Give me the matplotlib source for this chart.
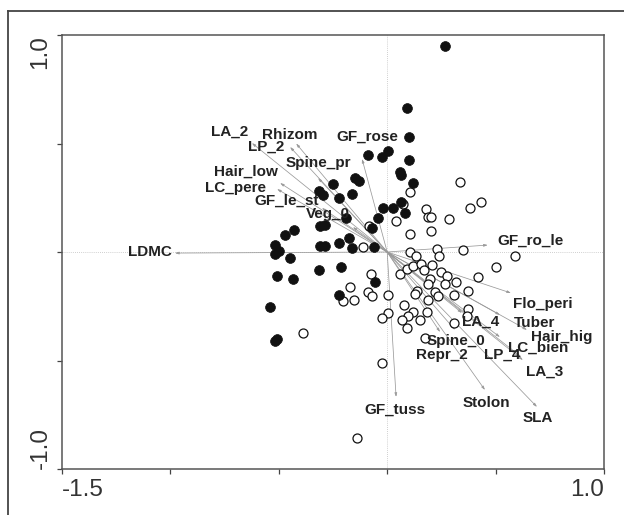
import matplotlib
matplotlib.use("Agg")
import matplotlib.pyplot as plt
from matplotlib.lines import Line2D

plt.rcParams['font.family'] = ['Liberation Sans', 'DejaVu Sans']

# --- sample scores (group 1: filled, group 2: open) ---
filled_x = [0.267, 0.091, 0.101, -0.089, -0.024, 0.004, 0.101, 0.059, 0.064, 0.119,
            -0.149, -0.130, -0.250, -0.315, -0.296, -0.222, -0.162, 0.064, -0.019, 0.027,
            0.082, -0.042, -0.190, -0.070, -0.310, -0.287, -0.176, -0.222, -0.310, -0.287,
            -0.162, -0.061, -0.430, -0.471, -0.518, -0.499, -0.518, -0.448, -0.508, -0.435,
            -0.315, -0.213, -0.056, -0.222, -0.541, -0.518, -0.508]
filled_y = [0.949, 0.664, 0.530, 0.447, 0.438, 0.465, 0.424, 0.369, 0.355, 0.318,
            0.341, 0.327, 0.313, 0.281, 0.263, 0.249, 0.267, 0.230, 0.203, 0.203,
            0.180, 0.157, 0.157, 0.111, 0.120, 0.124, 0.065, 0.041, 0.028, 0.028,
            0.018, 0.023, 0.101, 0.078, 0.032, 0.005, -0.009, -0.028, -0.111, -0.124,
            -0.083, -0.069, -0.138, -0.198, -0.253, -0.410, -0.401]

open_x = [0.336, 0.105, 0.073, 0.179, 0.188, 0.202, 0.285, 0.382, 0.433, 0.041,
          -0.084, 0.105, 0.202, -0.112, 0.105, 0.133, 0.230, 0.239, 0.350, 0.590,
          -0.388, -0.204, -0.153, -0.172, -0.089, -0.070, -0.075, 0.004, 0.004, -0.024,
          0.059, 0.091, 0.119, 0.156, 0.170, 0.207, 0.248, 0.276, 0.317, 0.267,
          0.197, 0.188, 0.137, 0.128, 0.220, 0.234, 0.308, 0.373, 0.419, 0.502,
          0.188, 0.078, 0.119, 0.096, 0.068, 0.151, 0.184, 0.091, 0.308, 0.373,
          0.368, 0.174, -0.024, -0.139]
open_y = [0.323, 0.276, 0.221, 0.198, 0.161, 0.161, 0.152, 0.203, 0.230, 0.143,
          0.120, 0.083, 0.097, 0.023, 0.000, -0.018, 0.014, -0.018, 0.009, -0.018,
          -0.373, -0.226, -0.221, -0.161, -0.184, -0.203, -0.101, -0.198, -0.281, -0.304,
          -0.101, -0.078, -0.065, -0.055, -0.083, -0.060, -0.092, -0.111, -0.138, -0.147,
          -0.124, -0.147, -0.180, -0.194, -0.184, -0.203, -0.198, -0.180, -0.115, -0.069,
          -0.221, -0.244, -0.276, -0.295, -0.313, -0.313, -0.276, -0.350, -0.327, -0.263,
          -0.295, -0.396, -0.511, -0.857]

# --- trait vectors ---
traits = ['LDMC', 'GF_ro_le', 'GF_rose', 'Spine_pr', 'Rhizom', 'LA_2', 'LP_2',
          'Hair_low', 'LC_pere', 'GF_le_st', 'Veg_0', 'Flo_peri', 'Tuber',
          'Hair_hig', 'LC_bien', 'LP_4', 'LA_3', 'LA_4', 'Spine_0', 'Repr_2',
          'Stolon', 'SLA', 'GF_tuss']
arrow_x = [-0.979, 0.464, -0.116, -0.319, -0.420, -0.624, -0.448, -0.494, -0.508,
           -0.301, -0.158, 0.571, 0.520, 0.645, 0.520, 0.613, 0.626, 0.345, 0.313,
           0.244, 0.451, 0.691, 0.041]
arrow_y = [-0.005, 0.032, 0.429, 0.341, 0.500, 0.502, 0.484, 0.318, 0.290, 0.203,
           0.115, -0.189, -0.290, -0.359, -0.392, -0.479, -0.498, -0.281, -0.359,
           -0.369, -0.636, -0.714, -0.668]
label_x = [-1.093, 0.659, -0.093, -0.319, -0.448, -0.725, -0.559, -0.650, -0.702,
           -0.466, -0.273, 0.719, 0.682, 0.806, 0.696, 0.530, 0.728, 0.433, 0.317,
           0.253, 0.457, 0.696, 0.036]
label_y = [0.000, 0.051, 0.530, 0.410, 0.539, 0.553, 0.484, 0.369, 0.295, 0.235,
           0.175, -0.240, -0.327, -0.392, -0.442, -0.475, -0.553, -0.323, -0.410,
           -0.475, -0.696, -0.765, -0.728]

x_ticks = [-1.5, -1.0, -0.5, 0.0, 0.5, 1.0]
x_ticklabels = ['-1.5', '', '', '', '', '1.0']
y_ticks = [-1.0, -0.5, 0.0, 0.5, 1.0]
y_ticklabels = ['-1.0', '', '', '', '1.0']

fig = plt.figure(figsize=(6.24, 5.15), dpi=100)
ax = fig.add_axes([62/624, 1-469/515, (604-62)/624, (469-35)/515])

# outer frame (cut off at right/bottom)
frame_col = '#444444'
fig.add_artist(Line2D([8/624, 8/624], [0, 1-11/515], transform=fig.transFigure,
                      color=frame_col, lw=1.3))
fig.add_artist(Line2D([8/624, 1], [1-11/515, 1-11/515], transform=fig.transFigure,
                      color=frame_col, lw=1.3))

ax.set_xlim(-1.5, 1.0)
ax.set_ylim(-1.0, 1.0)

ax.axhline(0, color='#c0c0c0', lw=0.6, ls=(0, (1, 1.5)), zorder=1)
ax.axvline(0, color='#c0c0c0', lw=0.6, ls=(0, (1, 1.5)), zorder=1)

for ax_, ay_ in zip(arrow_x, arrow_y):
    ax.annotate('', xy=(ax_, ay_), xytext=(0, 0),
                arrowprops=dict(arrowstyle='-|>,head_length=0.22,head_width=0.07',
                                color='#9a9a9a', lw=0.55, shrinkA=0, shrinkB=0),
                zorder=2)

ax.scatter(open_x, open_y, s=42, facecolors='white', edgecolors='#111111',
           linewidths=0.9, zorder=3)
ax.scatter(filled_x, filled_y, s=50, facecolors='#111111', edgecolors='#111111',
           linewidths=0.5, zorder=4)

for name, lx, ly in zip(traits, label_x, label_y):
    ax.text(lx, ly, name, ha='center', va='center', fontsize=11,
            fontweight='bold', color='#222222', zorder=5)

ax.set_xticks(x_ticks)
ax.set_xticklabels(x_ticklabels)
ax.set_yticks(y_ticks)
ax.set_yticklabels(y_ticklabels, rotation=90)
ax.tick_params(direction='out', length=3.5, width=0.9, colors='#444444',
               labelsize=17.5, labelcolor='#333333', pad=4)
xl = ax.get_xticklabels()
xl[0].set_ha('left')
xl[-1].set_ha('right')
yl = ax.get_yticklabels()
for t in yl:
    t.set_va('center')
yl[0].set_va('bottom')
yl[-1].set_va('top')

for s in ax.spines.values():
    s.set_color('#555555')
    s.set_linewidth(1.1)

fig.savefig('out.png', dpi=100)
